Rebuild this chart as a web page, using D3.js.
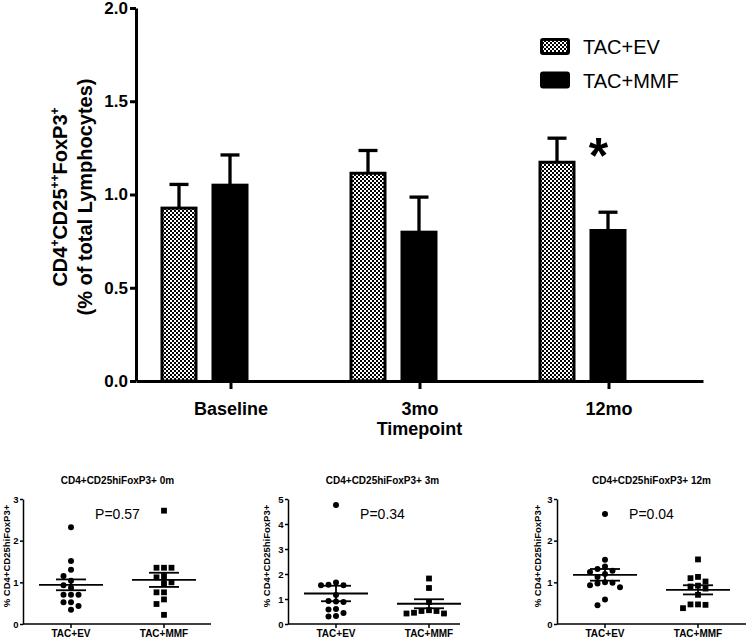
<!DOCTYPE html>
<html><head><meta charset="utf-8">
<script src="https://cdn.jsdelivr.net/npm/d3@7"></script>
<style>
body{margin:0;background:#fff}
svg{display:block}
text{font-family:"Liberation Sans",Arial,sans-serif;fill:#000}
</style>
</head><body>
<svg id="c" width="746" height="638"></svg>
<script>
// ---------- main bar chart data ----------
const timepoints = ["Baseline", "3mo", "12mo"];
const groups = ["TAC+EV", "TAC+MMF"];
const evMean = [0.927, 1.114, 1.173];
const evSem = [0.127, 0.122, 0.129];
const mmfMean = [1.050, 0.798, 0.807];
const mmfSem = [0.162, 0.188, 0.098];
const mainYTicks = [0, 0.5, 1.0, 1.5, 2.0];
const sigMarks = ["", "", "*"];

// ---------- scatter panels data ----------
const panelTitles = ["CD4+CD25hiFoxP3+ 0m", "CD4+CD25hiFoxP3+ 3m", "CD4+CD25hiFoxP3+ 12m"];
const pLabels = ["P=0.57", "P=0.34", "P=0.04"];
const panelYMax = [3, 5, 3];
const ev0m = [2.32, 1.51, 1.30, 1.15, 1.04, 0.93, 0.87, 0.70, 0.70, 0.70, 0.52, 0.52, 0.43, 0.34];
const mmf0m = [2.72, 1.35, 1.35, 1.35, 1.15, 1.12, 1.00, 0.98, 0.76, 0.76, 0.59, 0.48, 0.22];
const ev3m = [4.76, 1.66, 1.57, 1.55, 1.55, 1.16, 0.92, 0.90, 0.88, 0.60, 0.58, 0.44, 0.32, 0.30];
const mmf3m = [1.82, 1.44, 0.88, 0.55, 0.52, 0.52, 0.45, 0.42, 0.42];
const ev12m = [2.64, 1.54, 1.38, 1.32, 1.28, 1.25, 1.20, 1.13, 1.00, 0.99, 0.97, 0.93, 0.88, 0.59, 0.45];
const mmf12m = [1.55, 1.13, 1.10, 1.02, 0.92, 0.90, 0.85, 0.70, 0.47, 0.38, 0.46, 0.47];
const scatterEvMean = [0.94, 1.22, 1.18];
const scatterEvSem = [0.13, 0.31, 0.14];
const scatterMmfMean = [1.06, 0.81, 0.82];
const scatterMmfSem = [0.17, 0.18, 0.11];

const svg = d3.select("#c");
const defs = svg.append("defs");
const pat = defs.append("pattern").attr("id", "chk").attr("patternUnits", "userSpaceOnUse")
  .attr("width", 4).attr("height", 4);
pat.append("rect").attr("width", 4).attr("height", 4).attr("fill", "#fff");
pat.append("rect").attr("width", 2).attr("height", 2).attr("fill", "#000");
pat.append("rect").attr("x", 2).attr("y", 2).attr("width", 2).attr("height", 2).attr("fill", "#000");
const fills = {"TAC+EV": "url(#chk)", "TAC+MMF": "#000"};

// ---------- main chart ----------
const y = d3.scaleLinear().domain([0, 2]).range([381, 8]);
const xTime = d3.scalePoint().domain(timepoints).range([136, 703]).padding(0.5);
const xGroup = d3.scaleBand().domain(groups).range([-70, 18]).paddingInner(0.2745);
const bw = xGroup.bandwidth();

const rows = [];
timepoints.forEach((t, i) => {
  rows.push({t, g: "TAC+EV", v: evMean[i], e: evSem[i]});
  rows.push({t, g: "TAC+MMF", v: mmfMean[i], e: mmfSem[i]});
});

const main = svg.append("g");
const eb = main.selectAll(".eb").data(rows).join("g");
eb.append("line")
  .attr("x1", d => xTime(d.t) + xGroup(d.g) + bw / 2)
  .attr("x2", d => xTime(d.t) + xGroup(d.g) + bw / 2)
  .attr("y1", d => y(d.v)).attr("y2", d => y(d.v + d.e))
  .attr("stroke", "#000").attr("stroke-width", 3.3);
eb.append("line")
  .attr("x1", d => xTime(d.t) + xGroup(d.g) + bw / 2 - 9.5)
  .attr("x2", d => xTime(d.t) + xGroup(d.g) + bw / 2 + 9.5)
  .attr("y1", d => y(d.v + d.e)).attr("y2", d => y(d.v + d.e))
  .attr("stroke", "#000").attr("stroke-width", 3.3);
main.selectAll(".bar").data(rows).join("rect")
  .attr("x", d => xTime(d.t) + xGroup(d.g) + 1.5)
  .attr("y", d => y(d.v))
  .attr("width", bw - 3)
  .attr("height", d => y(0) - y(d.v))
  .attr("fill", d => fills[d.g])
  .attr("stroke", "#000").attr("stroke-width", 3);

main.selectAll(".sig").data(timepoints.map((t, i) => ({t, s: sigMarks[i], top: evMean[i] + evSem[i]})))
  .join("text")
  .attr("x", d => xTime(d.t) - 10)
  .attr("y", d => y(d.top) + 35)
  .attr("text-anchor", "middle")
  .style("font-size", "50px").style("font-weight", "bold")
  .text(d => d.s);

const yAx = main.append("g").attr("transform", "translate(136,0)")
  .call(d3.axisLeft(y).tickValues(mainYTicks).tickFormat(d3.format(".1f")).tickSize(6).tickSizeOuter(0).tickPadding(2));
yAx.selectAll("path,line").attr("stroke", "#000").attr("stroke-width", 3);
yAx.selectAll("text").style("font-size", "17px").style("font-weight", "bold").attr("fill", "#000");

const xAx = main.append("g").attr("transform", "translate(0,381)")
  .call(d3.axisBottom(xTime).tickSize(8).tickSizeOuter(0).tickPadding(13));
xAx.selectAll("path,line").attr("stroke", "#000").attr("stroke-width", 3);
xAx.selectAll("text").style("font-size", "18px").style("font-weight", "bold").attr("fill", "#000");

main.append("text").attr("x", (xTime.range()[0] + xTime.range()[1]) / 2).attr("y", 435)
  .attr("text-anchor", "middle").style("font-size", "18px").style("font-weight", "bold").text("Timepoint");

const yt = main.append("g").attr("transform", "translate(0,197) rotate(-90)");
const l1 = yt.append("text").attr("x", 0).attr("y", 67).attr("text-anchor", "middle")
  .style("font-size", "20px").style("font-weight", "bold");
l1.append("tspan").text("CD4");
l1.append("tspan").attr("dy", -8).style("font-size", "12px").text("+");
l1.append("tspan").attr("dy", 8).text("CD25");
l1.append("tspan").attr("dy", -8).style("font-size", "12px").text("++");
l1.append("tspan").attr("dy", 8).text("FoxP3");
l1.append("tspan").attr("dy", -8).style("font-size", "12px").text("+");
yt.append("text").attr("x", 0).attr("y", 92).attr("text-anchor", "middle")
  .style("font-size", "20px").style("font-weight", "bold").text("(% of total Lymphocytes)");

const leg = main.append("g");
groups.forEach((g, i) => {
  leg.append("rect").attr("x", 541.5).attr("y", 39.5 + i * 33.5).attr("width", 27).attr("height", 14)
    .attr("rx", 1.5).attr("fill", fills[g]).attr("stroke", "#000").attr("stroke-width", 3);
  leg.append("text").attr("x", 583).attr("y", 54 + i * 33.5).style("font-size", "20px").text(g);
});

// ---------- scatter panels ----------
const panelAxisX = [[23, 211], [288, 460], [557, 747]];
const panelLabelX = [10, 270, 541];
const evSets = [ev0m, ev3m, ev12m];
const mmfSets = [mmf0m, mmf3m, mmf12m];

function swarm(vals, ys, cx, step, minGap) {
  const placed = [];
  const order = vals.map((v, i) => ({v, i})).sort((a, b) => b.v - a.v);
  const out = [];
  const offs = [0, -1, 1, -2, 2, -3, 3, -4, 4];
  order.forEach(o => {
    const py = ys(o.v);
    for (const k of offs) {
      const px = cx + k * step;
      if (!placed.some(p => Math.hypot(p.x - px, p.y - py) < minGap)) {
        placed.push({x: px, y: py});
        out.push({x: px, y: py, v: o.v});
        break;
      }
    }
  });
  return out;
}

panelTitles.forEach((title, p) => {
  const [ax0, ax1] = panelAxisX[p];
  const g = svg.append("g");
  const ys = d3.scaleLinear().domain([0, panelYMax[p]]).range([624, 499]);
  const xs = d3.scalePoint().domain(groups).range([ax0 + 48, ax0 + 141]);
  const mid = (xs(groups[0]) + xs(groups[1])) / 2;

  const ya = g.append("g").attr("transform", `translate(${ax0},0)`)
    .call(d3.axisLeft(ys).ticks(panelYMax[p]).tickFormat(d3.format("d")).tickSize(3).tickSizeOuter(0).tickPadding(1.5));
  ya.selectAll("path,line").attr("stroke", "#000").attr("stroke-width", 1.5);
  ya.selectAll("text").style("font-size", "9.5px").style("font-weight", "bold").attr("fill", "#222");

  g.append("line").attr("x1", ax0).attr("x2", ax1).attr("y1", ys(0)).attr("y2", ys(0))
    .attr("stroke", "#000").attr("stroke-width", 1.5);
  groups.forEach(gr => {
    g.append("line").attr("x1", xs(gr)).attr("x2", xs(gr)).attr("y1", ys(0)).attr("y2", ys(0) + 4)
      .attr("stroke", "#000").attr("stroke-width", 1.5);
    g.append("text").attr("x", xs(gr)).attr("y", 637).attr("text-anchor", "middle")
      .style("font-size", "10px").style("font-weight", "bold").text(gr);
  });

  g.append("text").attr("x", mid).attr("y", 484).attr("text-anchor", "middle")
    .style("font-size", "10px").style("font-weight", "bold").text(title);
  g.append("text").attr("x", mid).attr("y", 519).attr("text-anchor", "middle")
    .style("font-size", "14px").text(pLabels[p]);
  g.append("text").attr("transform", `translate(${panelLabelX[p]},556) rotate(-90)`)
    .attr("text-anchor", "middle").style("font-size", "9.5px").style("font-weight", "bold")
    .text("% CD4+CD25hiFoxP3+");

  const evPts = swarm(evSets[p], ys, xs(groups[0]), 7.5, 6.4);
  g.selectAll(".ev").data(evPts).join("circle")
    .attr("cx", d => d.x).attr("cy", d => d.y).attr("r", 3).attr("fill", "#000");
  const mmfPts = swarm(mmfSets[p], ys, xs(groups[1]), 7.5, 6.4);
  g.selectAll(".mm").data(mmfPts).join("rect")
    .attr("x", d => d.x - 2.9).attr("y", d => d.y - 2.9).attr("width", 5.8).attr("height", 5.8).attr("fill", "#000");

  const stats = [
    {g: groups[0], m: scatterEvMean[p], s: scatterEvSem[p]},
    {g: groups[1], m: scatterMmfMean[p], s: scatterMmfSem[p]}
  ];
  stats.forEach(st => {
    const cx = xs(st.g);
    g.append("line").attr("x1", cx - 32).attr("x2", cx + 32).attr("y1", ys(st.m)).attr("y2", ys(st.m))
      .attr("stroke", "#000").attr("stroke-width", 1.8);
    g.append("line").attr("x1", cx).attr("x2", cx).attr("y1", ys(st.m - st.s)).attr("y2", ys(st.m + st.s))
      .attr("stroke", "#000").attr("stroke-width", 1.8);
    [st.m - st.s, st.m + st.s].forEach(v => {
      g.append("line").attr("x1", cx - 15).attr("x2", cx + 15).attr("y1", ys(v)).attr("y2", ys(v))
        .attr("stroke", "#000").attr("stroke-width", 1.8);
    });
  });
});
</script>
</body></html>
